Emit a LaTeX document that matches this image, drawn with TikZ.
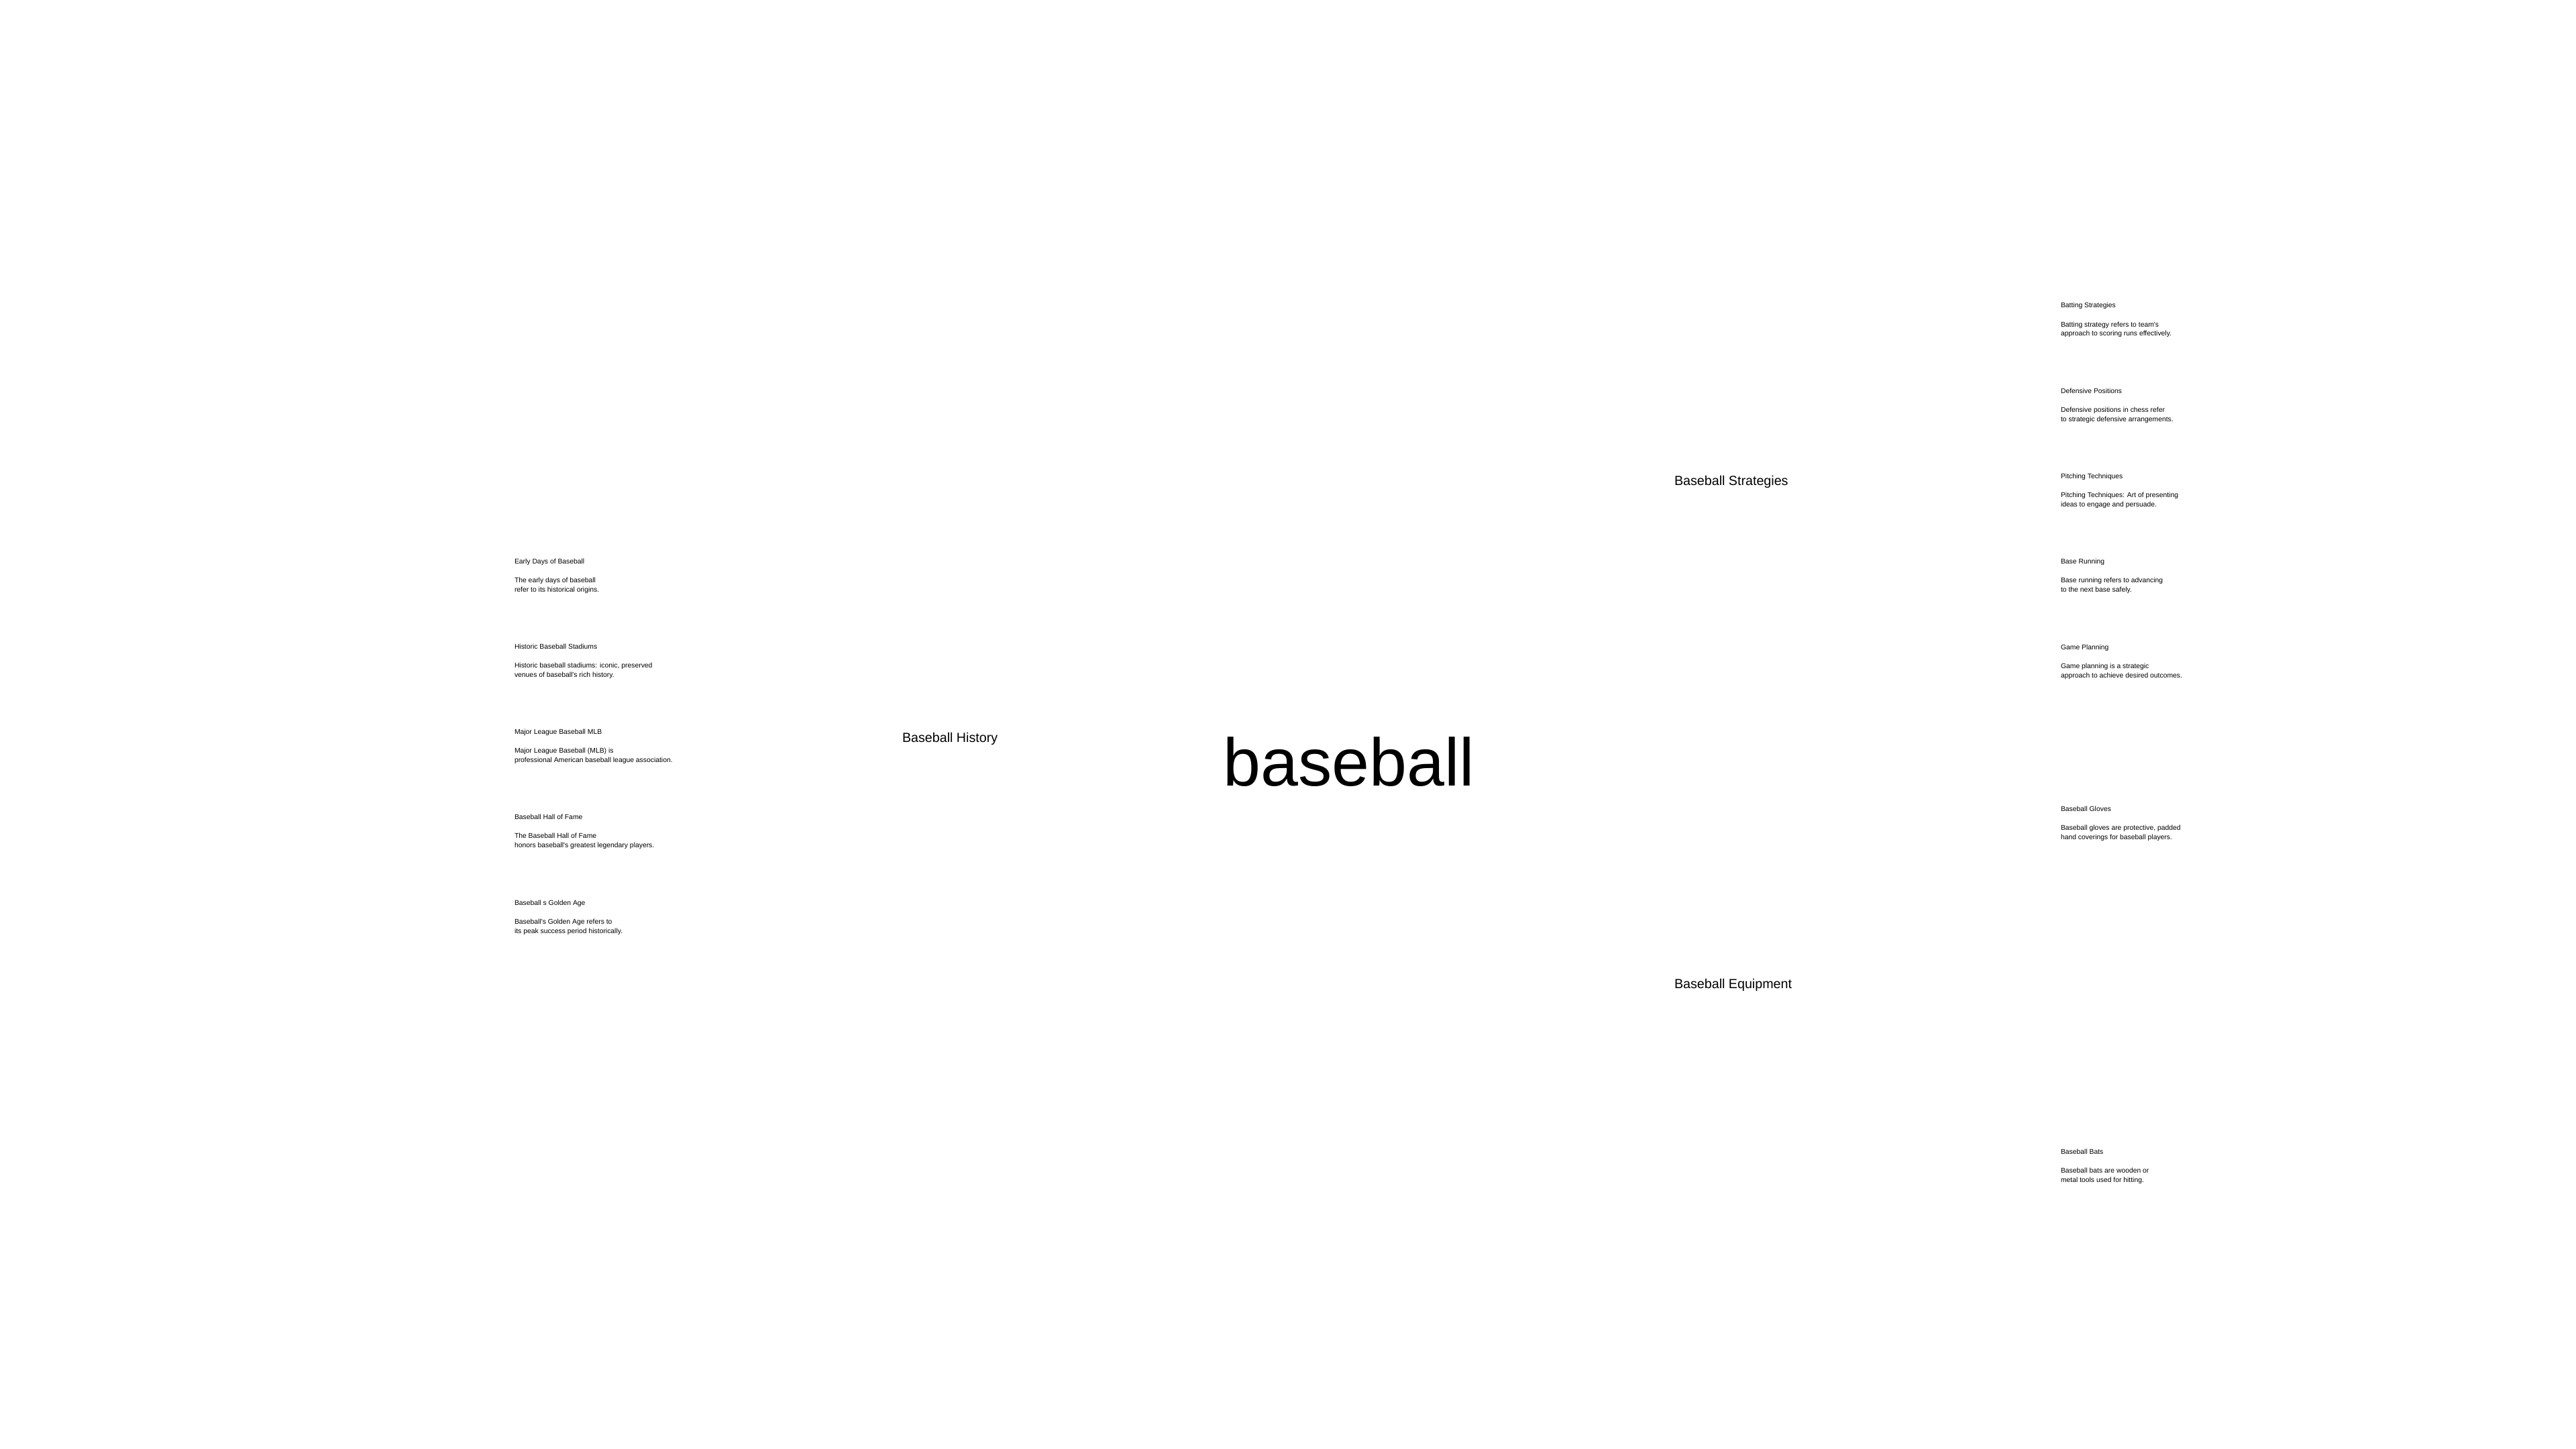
\documentclass[tikz,border=0pt]{standalone}
\usepackage{fontspec}
\newfontfamily\mapfont{Liberation Sans}
\usetikzlibrary{positioning}

\begin{document}
\begin{tikzpicture}[every node/.style={inner sep=0pt,outer sep=0pt,anchor=base west},
				rootnode/.style={font=\mapfont\fontsize{28.6pt}{34pt}\selectfont},
				branch/.style={font=\mapfont\fontsize{5.6pt}{6.7pt}\selectfont},
				leaf/.style={font=\mapfont\fontsize{2.95pt}{3.98pt}\selectfont},
				leafbody/.style={leaf,align=left}]
				\useasboundingbox (0,0) rectangle (38.4,-21.6);
				\node (root)  [rootnode] at (18.235,-11.71) {baseball};
				\node (HIST)  [branch]   at (13.45,-11.06)  {Baseball History};
				\node (STRAT) [branch]   at (24.96,-7.235)  {Baseball Strategies};
				\node (EQUIP) [branch]   at (24.96,-14.73)  {Baseball Equipment};
				% history
				\node (h1) [leaf] at (7.67,-8.40) {Early Days of Baseball};
				\node (h2) [leaf,below=1.273cm of h1.base west,anchor=base west] {Historic Baseball Stadiums};
				\node (h3) [leaf,below=1.273cm of h2.base west,anchor=base west] {Major League Baseball MLB};
				\node (h4) [leaf,below=1.273cm of h3.base west,anchor=base west] {Baseball Hall of Fame};
				\node (h5) [leaf,below=1.273cm of h4.base west,anchor=base west] {Baseball s Golden Age};
				\node (h1d) [leafbody,below=0.42cm of h1.base west,anchor=base west] {The early days of baseball\\refer to its historical origins.};
				\node (h2d) [leafbody,below=0.42cm of h2.base west,anchor=base west] {Historic baseball stadiums: iconic, preserved\\venues of baseball's rich history.};
				\node (h3d) [leafbody,below=0.42cm of h3.base west,anchor=base west] {Major League Baseball (MLB) is\\professional American baseball league association.};
				\node (h4d) [leafbody,below=0.42cm of h4.base west,anchor=base west] {The Baseball Hall of Fame\\honors baseball's greatest legendary players.};
				\node (h5d) [leafbody,below=0.42cm of h5.base west,anchor=base west] {Baseball's Golden Age refers to\\its peak success period historically.};
				% strategies
				\node (s1) [leaf] at (30.72,-4.59) {Batting Strategies};
				\node (s2) [leaf,below=1.273cm of s1.base west,anchor=base west] {Defensive Positions};
				\node (s3) [leaf,below=1.273cm of s2.base west,anchor=base west] {Pitching Techniques};
				\node (s4) [leaf,below=1.273cm of s3.base west,anchor=base west] {Base Running};
				\node (s5) [leaf,below=1.273cm of s4.base west,anchor=base west] {Game Planning};
				\node (s1d) [leafbody,below=0.42cm of s1.base west,anchor=base west] {Batting strategy refers to team's\\approach to scoring runs effectively.};
				\node (s2d) [leafbody,below=0.42cm of s2.base west,anchor=base west] {Defensive positions in chess refer\\to strategic defensive arrangements.};
				\node (s3d) [leafbody,below=0.42cm of s3.base west,anchor=base west] {Pitching Techniques: Art of presenting\\ideas to engage and persuade.};
				\node (s4d) [leafbody,below=0.42cm of s4.base west,anchor=base west] {Base running refers to advancing\\to the next base safely.};
				\node (s5d) [leafbody,below=0.42cm of s5.base west,anchor=base west] {Game planning is a strategic\\approach to achieve desired outcomes.};
				% equipment
				\node (e1) [leaf] at (30.72,-12.09) {Baseball Gloves};
				\node (e2) [leaf] at (30.72,-17.20) {Baseball Bats};
				\node (e1d) [leafbody,below=0.42cm of e1.base west,anchor=base west] {Baseball gloves are protective, padded\\hand coverings for baseball players.};
				\node (e2d) [leafbody,below=0.42cm of e2.base west,anchor=base west] {Baseball bats are wooden or\\metal tools used for hitting.};
			\end{tikzpicture}
\end{document}
